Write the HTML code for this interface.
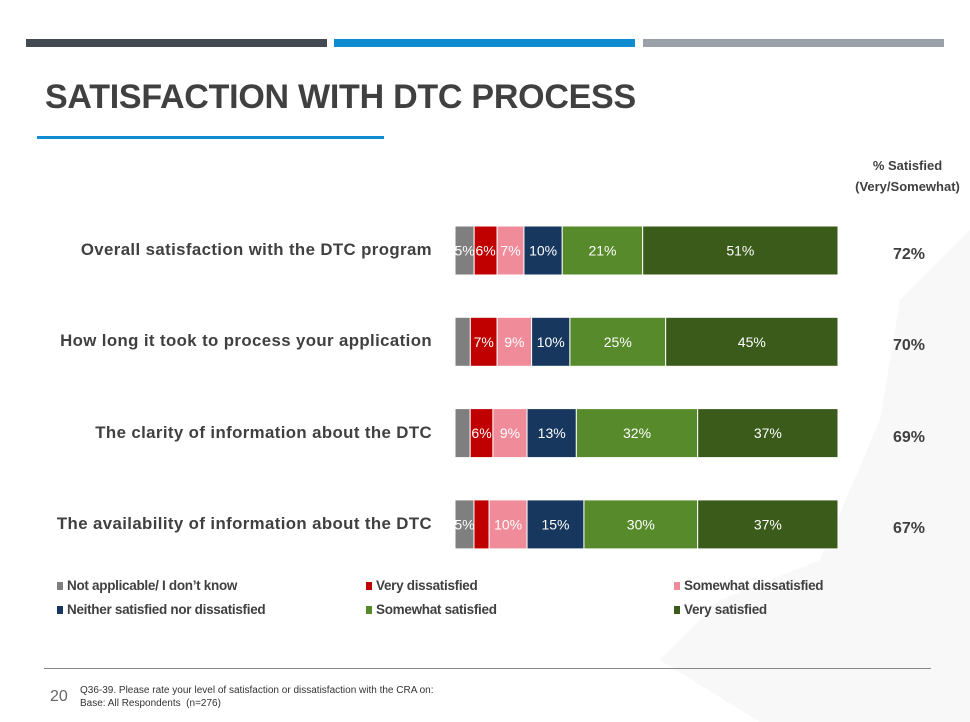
<!DOCTYPE html>
<html><head><meta charset="utf-8"><style>
body{margin:0;width:970px;height:722px;background:#fff;position:relative;overflow:hidden;font-family:"Liberation Sans",Arial,sans-serif;color:#404040}
.a{position:absolute}
.cat{position:absolute;right:538px;font-weight:bold;font-size:16.8px;letter-spacing:0.4px;color:#404040;white-space:nowrap}
.pct{position:absolute;left:870px;width:78px;text-align:center;font-weight:bold;font-size:16px}
.leg{position:absolute;font-size:13.5px;font-weight:bold;color:#404040;letter-spacing:-0.3px;white-space:nowrap}
.leg i{display:inline-block;width:6px;height:8px;margin-right:4px}
</style></head><body>
<svg class="a" style="left:0;top:0" width="970" height="722"><polygon points="970,230 900,300 880,420 820,560 720,600 660,660 760,722 970,722" fill="#f8f8f9"/></svg>
<div class="a" style="left:26px;top:39px;width:301px;height:8px;background:#434a52"></div>
<div class="a" style="left:334px;top:39px;width:301px;height:8px;background:#0e8ccf"></div>
<div class="a" style="left:643px;top:39px;width:301px;height:8px;background:#9ba1a8"></div>
<div class="a" style="left:45px;top:78px;font-size:34px;font-weight:bold;color:#404040;letter-spacing:-0.25px">SATISFACTION WITH DTC PROCESS</div>
<div class="a" style="left:37px;top:136px;width:347px;height:3px;background:#0e8ccf"></div>
<div class="a" style="left:845px;top:155px;width:125px;text-align:center;font-size:13px;font-weight:bold;line-height:21px">% Satisfied<br>(Very/Somewhat)</div>
<div id="chart"></div>
<div class="leg" style="left:57px;top:578px"><i style="background:#7f7f7f"></i>Not applicable/ I don’t know</div>
<div class="leg" style="left:366px;top:578px"><i style="background:#c00000"></i>Very dissatisfied</div>
<div class="leg" style="left:674px;top:578px"><i style="background:#f08c9a"></i>Somewhat dissatisfied</div>
<div class="leg" style="left:57px;top:602px"><i style="background:#17375e"></i>Neither satisfied nor dissatisfied</div>
<div class="leg" style="left:366px;top:602px"><i style="background:#568a2a"></i>Somewhat satisfied</div>
<div class="leg" style="left:674px;top:602px"><i style="background:#3b5b1b"></i>Very satisfied</div>
<div class="a" style="left:44px;top:668px;width:887px;height:1px;background:#888"></div>
<div class="a" style="left:50px;top:688px;font-size:16px;color:#666">20</div>
<div class="a" style="left:80px;top:684px;font-size:10px;line-height:13px;color:#333">Q36-39. Please rate your level of satisfaction or dissatisfaction with the CRA on:<br>Base: All Respondents &nbsp;(n=276)</div>
<script>
const categories=["Overall satisfaction with the DTC program","How long it took to process your application","The clarity of information about the DTC","The availability of information about the DTC"];
const notApplicable=[5,4,4,5];
const veryDissatisfied=[6,7,6,4];
const somewhatDissatisfied=[7,9,9,10];
const neither=[10,10,13,15];
const somewhatSatisfied=[21,25,32,30];
const verySatisfied=[51,45,37,37];
const satisfiedTotals=["72%","70%","69%","67%"];
const series=[notApplicable,veryDissatisfied,somewhatDissatisfied,neither,somewhatSatisfied,verySatisfied];
const colors=["#7f7f7f","#c00000","#f08c9a","#17375e","#568a2a","#3b5b1b"];
const names=["na","very-dissatisfied","somewhat-dissatisfied","neither","somewhat-satisfied","very-satisfied"];
const X0=455,W=383,Y0=226,PITCH=91.3,H=49;
const chart=document.getElementById('chart');
const ns="http://www.w3.org/2000/svg";
const svg=document.createElementNS(ns,'svg');
svg.setAttribute('width',970);svg.setAttribute('height',722);
svg.setAttribute('style','position:absolute;left:0;top:0');


chart.appendChild(svg);
function yPos(i){return Y0+i*PITCH;}
categories.forEach((c,i)=>{
  let total=series.reduce((s,a)=>s+a[i],0);
  let x=X0;
  series.forEach((arr,k)=>{
    const w=arr[i]/total*W;
    const r=document.createElementNS(ns,'rect');
    r.setAttribute('x',x);r.setAttribute('y',yPos(i));r.setAttribute('width',w);r.setAttribute('height',H);
    r.setAttribute('fill',colors[k]);r.setAttribute('stroke','#fff');r.setAttribute('stroke-width',1);
    
    
    svg.appendChild(r);
    if(arr[i]>=5){
      const t=document.createElementNS(ns,'text');
      t.setAttribute('x',x+w/2);t.setAttribute('y',yPos(i)+H/2+5);
      t.setAttribute('text-anchor','middle');t.setAttribute('fill','#fff');
      t.setAttribute('font-size','14');t.setAttribute('font-family','Liberation Sans, sans-serif');
      t.textContent=arr[i]+'%';
      
      
      svg.appendChild(t);
    }
    x+=w;
  });
  const d=document.createElement('div');
  d.className='cat';d.style.top=(yPos(i)+14)+'px';d.textContent=c;
  
  
  document.body.appendChild(d);
  const p=document.createElement('div');
  p.className='pct';p.style.top=(yPos(i)+20)+'px';p.textContent=satisfiedTotals[i];
  
  
  document.body.appendChild(p);
});
</script>
</body></html>
